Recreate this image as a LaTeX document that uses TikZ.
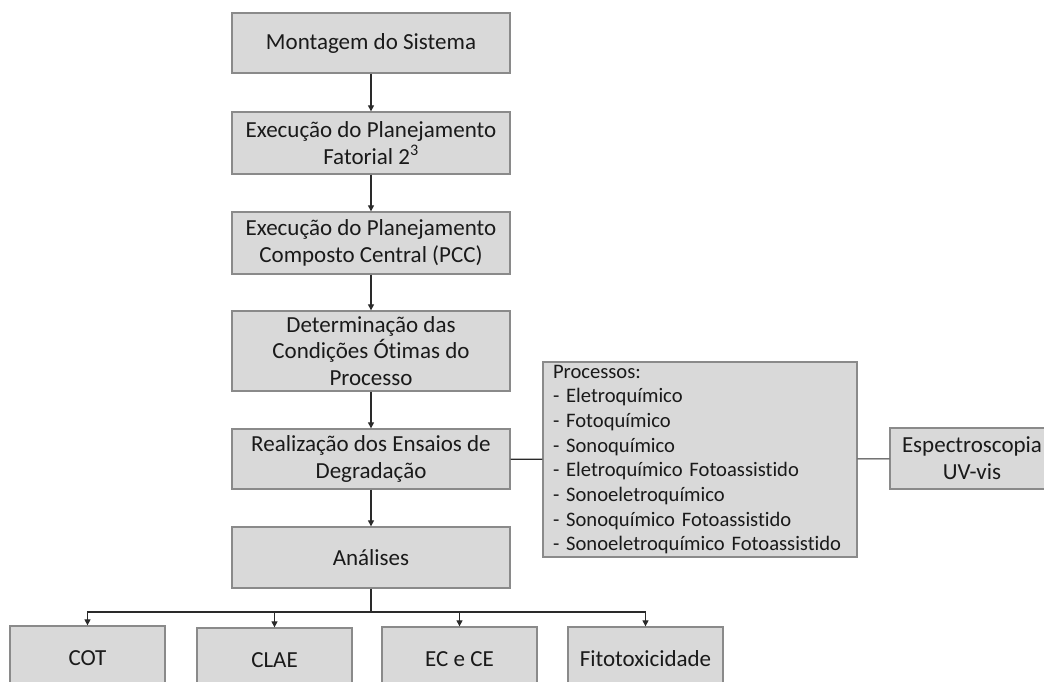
\documentclass[tikz,border=0pt]{standalone}
\usepackage{fontspec}
\setmainfont{Carlito}[Ligatures={TeX,NoCommon}]
\usetikzlibrary{arrows.meta}
\definecolor{boxc}{HTML}{D9D9D9}
\definecolor{bordc}{HTML}{8A8A8A}
\definecolor{txtc}{HTML}{1A1A1A}
\definecolor{linec}{HTML}{2A2A2A}
\tikzset{
  box/.style={draw=bordc, fill=boxc, line width=1.3pt, text=txtc, align=center,
    inner sep=0pt, minimum width=278pt, font=\fontsize{23}{26.7}\selectfont},
  smallbox/.style={box, minimum width=155pt, minimum height=64pt},
  arr/.style={draw=linec, line width=1.1pt, -{Triangle[length=6pt,width=6pt]}},
  conn/.style={draw=linec, line width=1.1pt}
}
\begin{document}
\begin{tikzpicture}[x=1pt,y=-1pt]
\clip (0,0) rectangle (1044,682);
\fill[white] (0,0) rectangle (1044,682);
\node[box, minimum height=60pt] (mont) at (371,43) {Montagem do Sistema};
\node[box, minimum height=62pt] (exe1) at (371,143) {Execução do Planejamento\\Fatorial 2\textsuperscript{3}};
\node[box, minimum height=62pt] (exe2) at (371,243) {Execução do Planejamento\\Composto Central (PCC)};
\node[box, minimum height=80pt] (det) at (371,351) {Determinação das\\Condições Ótimas do\\Processo};
\node[box, minimum height=60pt] (rea) at (371,459) {Realização dos Ensaios de\\Degradação};
\node[box, minimum height=61pt] (ana) at (371,557.5) {Análises};
\node[box, minimum width=314pt, minimum height=195pt, text width=294pt, align=left,
  font=\fontsize{20.6}{24.7}\selectfont] (proc) at (700,459.5)
  {Processos:\\- Eletroquímico\\- Fotoquímico\\- Sonoquímico\\- Eletroquímico Fotoassistido\\- Sonoeletroquímico\\- Sonoquímico Fotoassistido\\- Sonoeletroquímico Fotoassistido};
\node[box, minimum width=164pt, minimum height=61pt] (esp) at (972,458.5) {Espectroscopia\\UV-vis};
\node[smallbox] (cot) at (87.5,658) {COT};
\node[smallbox] (clae) at (274.5,660) {CLAE};
\node[smallbox] (ecce) at (459.5,659) {EC e CE};
\node[smallbox] (fito) at (645.5,659) {Fitotoxicidade};
\draw[arr] (mont) -- (exe1);
\draw[arr] (exe1) -- (exe2);
\draw[arr] (exe2) -- (det);
\draw[arr] (det) -- (rea);
\draw[arr] (rea) -- (ana);
\draw[conn] (rea) -- (proc);
\draw[conn] (proc) -- (esp);
\coordinate (bus) at (371,612);
\draw[conn] (ana) -- (bus);
\draw[arr] (bus) -| (cot);
\draw[arr] (bus) -| (clae);
\draw[arr] (bus) -| (ecce);
\draw[arr] (bus) -| (fito);
\end{tikzpicture}
\end{document}
